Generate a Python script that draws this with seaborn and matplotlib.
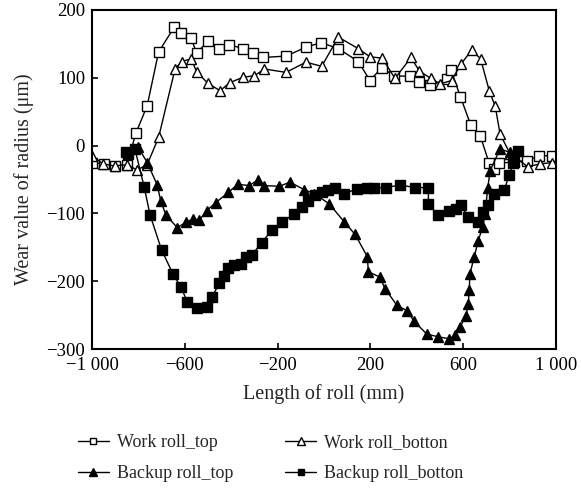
import numpy as np
import pandas as pd
import matplotlib
matplotlib.use("Agg")
import matplotlib.pyplot as plt
import seaborn as sns

# Data
work_top_x = [-1000, -950, -900, -850, -810, -762, -713, -645, -618, -573, -549, -501, -451, -408,
              -350, -305, -262, -164, -78, -13, 62, 148, 198, 249, 302, 372, 408, 458, 529, 547,
              588, 632, 674, 711, 734, 756, 820, 874, 928, 981]
work_top_y = [-25, -27, -30, -28, 19, 59, 138, 175, 166, 159, 136, 154, 143, 149,
              143, 136, 130, 132, 145, 152, 143, 124, 96, 115, 103, 102, 94, 89, 98, 112,
              72, 31, 14, -25, -34, -26, -24, -22, -15, -15]

work_bot_x = [-1000, -953, -902, -848, -806, -762, -713, -642, -613, -573, -549, -501, -448, -405,
              -348, -300, -257, -164, -78, -10, 62, 148, 198, 251, 306, 375, 411, 461, 500, 550,
              590, 637, 675, 713, 738, 759, 802, 878, 931, 984]
work_bot_y = [-15, -27, -30, -28, -36, -28, 12, 113, 124, 128, 109, 92, 81, 93,
              101, 103, 113, 108, 123, 117, 160, 143, 131, 129, 99, 130, 110, 99, 91, 96,
              120, 141, 128, 80, 58, 17, -12, -31, -27, -25]

backup_top_x = [-802, -762, -719, -704, -681, -632, -595, -563, -537, -506, -466, -412, -372, -322,
                -283, -259, -193, -147, -85, -42, 23, 86, 134, 187, 191, 241, 263, 313, 359, 388,
                443, 493, 540, 565, 586, 612, 622, 626, 629, 647, 665, 684, 694, 706, 716, 759, 802]
backup_top_y = [-2, -25, -58, -81, -103, -121, -113, -108, -110, -96, -84, -69, -57, -59,
                -50, -59, -60, -54, -65, -71, -86, -112, -131, -164, -186, -194, -211, -235, -244, -259,
                -278, -282, -285, -280, -268, -251, -233, -213, -189, -165, -140, -120, -101, -62, -37, -5, -10]

backup_bot_x = [-852, -843, -815, -775, -750, -700, -650, -618, -589, -549, -506, -484, -451, -431,
                -412, -387, -358, -336, -312, -269, -225, -180, -128, -96, -68, -39, -10, 19, 47,
                86, 141, 184, 216, 267, 328, 392, 450, 450, 490, 540, 569, 591, 622, 665, 687,
                708, 734, 776, 799, 816, 838]
backup_bot_y = [-10, -12, -5, -61, -102, -154, -190, -208, -230, -240, -238, -224, -203, -192,
                -180, -176, -174, -165, -162, -143, -125, -112, -101, -91, -81, -73, -69, -66, -62,
                -71, -64, -62, -62, -62, -58, -62, -62, -86, -102, -97, -93, -88, -106, -113, -98,
                -88, -72, -66, -43, -26, -8]

x_ticks = [-1000, -600, -200, 200, 600, 1000]
x_tick_labels = ["\u22121 000", "\u2212600", "\u2212200", "200", "600", "1 000"]
y_ticks = [-300, -200, -100, 0, 100, 200]
y_tick_labels = ["\u2212300", "\u2212200", "\u2212100", "0", "100", "200"]

sns.set_style("ticks")
plt.rcParams['font.family'] = ['Liberation Serif', 'DejaVu Serif']

fig = plt.figure(figsize=(5.81, 4.88), dpi=100)
ax = fig.add_axes([92 / 581, 1 - 349 / 488, 464 / 581, 339 / 488])

series = [
    ("Work roll_top", work_top_x, work_top_y, "s", "white", 7),
    ("Work roll_botton", work_bot_x, work_bot_y, "^", "white", 7.5),
    ("Backup roll_top", backup_top_x, backup_top_y, "^", "black", 7.5),
    ("Backup roll_botton", backup_bot_x, backup_bot_y, "s", "black", 7),
]

handles = {}
for name, xs, ys, mk, fc, ms in series:
    df = pd.DataFrame({"x": xs, "y": ys})
    sns.lineplot(data=df, x="x", y="y", ax=ax, sort=False, estimator=None,
                 color="black", linewidth=1.0, marker=mk, markersize=ms,
                 markerfacecolor=fc, markeredgecolor="black", markeredgewidth=1.0,
                 label=name, legend=False)
    handles[name] = ax.lines[-1]

ax.set_xlim(-1000, 1000)
ax.set_ylim(-300, 200)
ax.set_xticks(x_ticks)
ax.set_xticklabels(x_tick_labels)
ax.set_yticks(y_ticks)
ax.set_yticklabels(y_tick_labels)
ax.tick_params(direction="in", length=4, width=1.2, labelsize=13.5, colors="black")
ax.tick_params(axis="x", pad=6)
ax.tick_params(axis="y", pad=5)
for sp in ax.spines.values():
    sp.set_visible(True)
    sp.set_linewidth(1.5)
    sp.set_color("black")

ax.set_xlabel("Length of roll (mm)", fontsize=14.5, labelpad=7)
ax.set_ylabel("Wear value of radius (\u03bcm)", fontsize=14.5, labelpad=9)

order = ["Work roll_top", "Backup roll_top", "Work roll_botton", "Backup roll_botton"]
fig.legend([handles[n] for n in order], order, ncol=2, loc="lower center",
           bbox_to_anchor=(0.466, -0.022), frameon=False, fontsize=13,
           handlelength=1.7, handletextpad=0.45, columnspacing=2.9,
           labelspacing=0.8, markerscale=0.7)

fig.savefig("out.png", dpi=100)
